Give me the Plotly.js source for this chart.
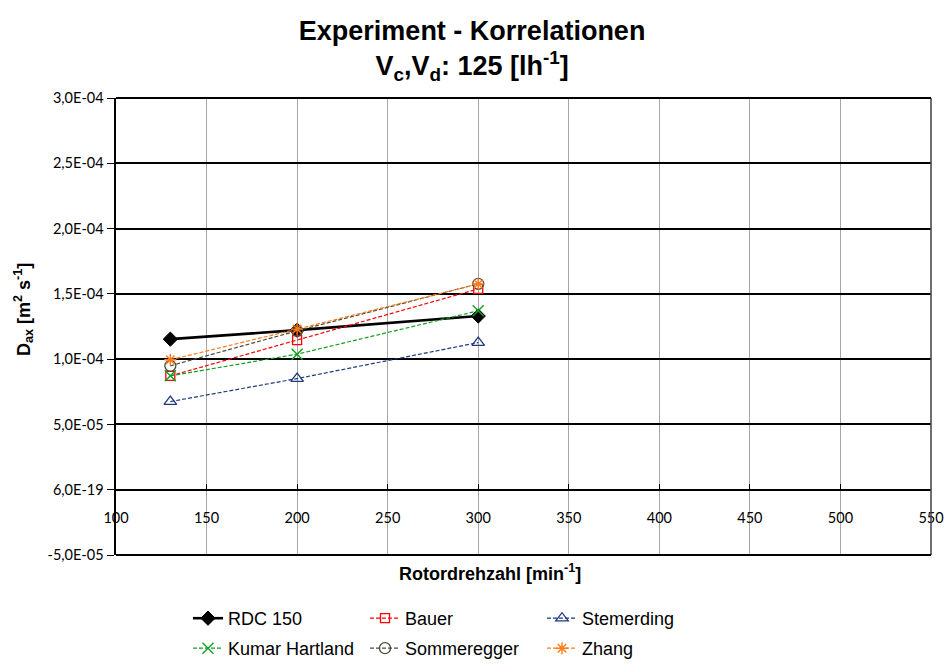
<!DOCTYPE html>
<html>
<head>
<meta charset="utf-8">
<script src="https://cdn.plot.ly/plotly-3.0.1.min.js"></script>
<style>html,body{margin:0;padding:0;background:#fff;}#chart{width:948px;height:666px;}</style>
</head>
<body>
<div id="chart"></div>
<script>
// Data
const rotorSpeed = [130, 200, 300];
const rdc150 = [1.153e-4, 1.222e-4, 1.330e-4];
const bauer = [0.872e-4, 1.145e-4, 1.538e-4];
const stemerding = [0.675e-4, 0.851e-4, 1.127e-4];
const kumarHartland = [0.872e-4, 1.038e-4, 1.370e-4];
const sommeregger = [0.949e-4, 1.217e-4, 1.577e-4];
const zhang = [0.995e-4, 1.230e-4, 1.575e-4];

const yTickVals = [-5e-5, 0, 5e-5, 1e-4, 1.5e-4, 2e-4, 2.5e-4, 3e-4];
const yTickText = ["-5,0E-05", "6,0E-19", "5,0E-05", "1,0E-04", "1,5E-04", "2,0E-04", "2,5E-04", "3,0E-04"];
const xTickVals = [100, 150, 200, 250, 300, 350, 400, 450, 500, 550];

const yRange = [-5e-5, 3e-4];
const xRange = [100, 550];

const dashStyle = "4px,2px";
function series(name, y, color, symbol, legend, opts) {
  opts = opts || {};
  return {
    x: rotorSpeed, y: y, name: name, type: 'scatter', mode: 'lines+markers',
    legend: legend,
    line: {color: color, width: opts.width || 1.2, dash: opts.dash || dashStyle},
    marker: {symbol: symbol, size: opts.size || 10, color: opts.fill || color,
             line: {color: color, width: opts.mlw || 1.3}}
  };
}

const traces = [
  series('RDC 150', rdc150, '#000000', 'diamond', 'legend', {width: 2.6, dash: 'solid', size: 11, mlw: 1}),
  series('Bauer', bauer, '#ff0000', 'square-open', 'legend', {size: 9}),
  series('Stemerding', stemerding, '#1f3a7a', 'triangle-up-open', 'legend', {size: 11}),
  series('Kumar Hartland', kumarHartland, '#10a020', 'x-thin-open', 'legend2', {size: 11, mlw: 1.4}),
  series('Sommeregger', sommeregger, '#4e4a3a', 'circle-open', 'legend2', {size: 11}),
  series('Zhang', zhang, '#ff7a1a', 'asterisk-open', 'legend2', {size: 10, mlw: 1.4})
];

const zeroPos = (0 - yRange[0]) / (yRange[1] - yRange[0]);
const tickFont = {family: 'Lato, "Liberation Sans", sans-serif', size: 14.5, color: '#000'};
const legFont = {family: '"Liberation Sans", Arial, sans-serif', size: 18, color: '#000'};
const arial = '"Liberation Sans", Arial, sans-serif';

const layout = {
  width: 948, height: 666,
  margin: {l: 116, r: 17, t: 98, b: 111},
  paper_bgcolor: '#fff', plot_bgcolor: '#fff',
  showlegend: true,
  title: {
    text: '<b>Experiment - Korrelationen</b><br><b>V<sub>c</sub>,V<sub>d</sub>: 125 [lh<sup>-1</sup>]</b>',
    font: {family: arial, size: 27, color: '#000'},
    xref: 'container', x: 0.498, xanchor: 'center',
    yref: 'container', y: 1 - 40 / 666, yanchor: 'middle'
  },
  xaxis: {
    range: xRange, tickvals: xTickVals, ticktext: xTickVals.map(String),
    anchor: 'free', position: zeroPos,
    showgrid: true, gridcolor: '#a6a6a6', gridwidth: 1,
    showline: true, linecolor: '#000', linewidth: 2,
    ticks: 'inside', ticklen: 5, tickcolor: '#000', tickwidth: 1,
    ticklabelstandoff: 15,
    tickfont: tickFont, zeroline: false, fixedrange: true
  },
  yaxis: {
    range: yRange, tickvals: yTickVals, ticktext: yTickText,
    showgrid: true, gridcolor: '#000', gridwidth: 2,
    showline: true, linecolor: '#000', linewidth: 2.5,
    ticks: 'outside', ticklen: 7, tickcolor: '#000', tickwidth: 1,
    tickfont: tickFont, zeroline: false, fixedrange: true
  },
  shapes: [
    {type: 'line', xref: 'paper', yref: 'paper', x0: 1, x1: 1, y0: 0, y1: 1,
     line: {color: '#404040', width: 1.5}},
    {type: 'line', xref: 'paper', yref: 'paper', x0: 0, x1: 1, y0: 1, y1: 1,
     line: {color: '#000', width: 2}},
    {type: 'line', xref: 'paper', yref: 'paper', x0: 0, x1: 1, y0: 0, y1: 0,
     line: {color: '#000', width: 2}}
  ],
  annotations: [
    {text: '<b>Rotordrehzahl [min<sup>-1</sup>]</b>', xref: 'paper', yref: 'paper',
     x: (490 - 116) / (931 - 116), y: -(572 - 555) / (555 - 98), xanchor: 'center', yanchor: 'middle',
     showarrow: false, font: {family: arial, size: 18, color: '#000'}},
    {text: '<b>D<sub>ax</sub> [m<sup>2</sup> s<sup>-1</sup>]</b>', xref: 'paper', yref: 'paper',
     x: -(116 - 23) / (931 - 116), y: (555 - 310) / (555 - 98), xanchor: 'center', yanchor: 'middle',
     textangle: -90, showarrow: false,
     font: {family: arial, size: 18, color: '#000'}}
  ],
  legend: {
    orientation: 'h', xref: 'container', yref: 'container',
    x: 188 / 948, xanchor: 'left', y: 1 - 600 / 666, yanchor: 'top',
    entrywidth: 132, entrywidthmode: 'pixels', font: legFont,
    bgcolor: 'rgba(0,0,0,0)', itemclick: false, itemdoubleclick: false
  },
  legend2: {
    orientation: 'h', xref: 'container', yref: 'container',
    x: 188 / 948, xanchor: 'left', y: 1 - 630 / 666, yanchor: 'top',
    entrywidth: 132, entrywidthmode: 'pixels', font: legFont,
    bgcolor: 'rgba(0,0,0,0)', itemclick: false, itemdoubleclick: false
  }
};

Plotly.newPlot('chart', traces, layout, {displayModeBar: false, responsive: false, staticPlot: true});
</script>
</body>
</html>
